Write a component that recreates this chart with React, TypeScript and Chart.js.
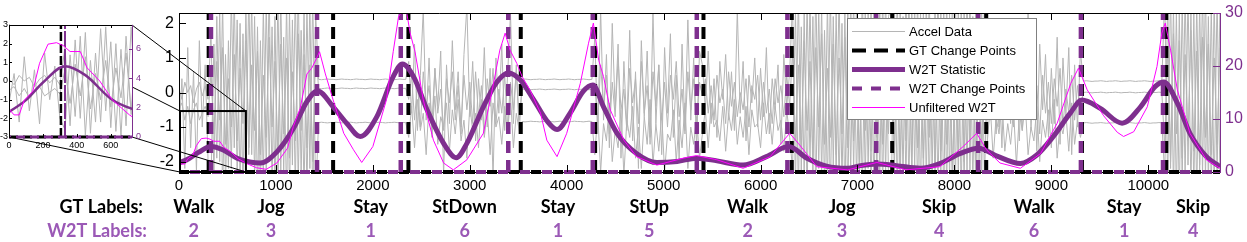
import React, { useEffect, useRef } from 'react';
import { Chart, registerables } from 'chart.js';

Chart.register(...registerables);

const FONT = "'Liberation Sans', Arial, sans-serif";
const LABEL_FONT = "Lato, 'Open Sans', sans-serif";
const PURPLE = '#7E2F8E';
const LABEL_PURPLE = '#9B59B6';
const MAGENTA = '#FF00FF';
const GREY = '#B5B5B5';

const X_MAX = 10740;
const SAMPLE_STEP = 30;
const INSET_X_MAX = 725;
const ZOOM_BOX_X = [0, 680];
const ZOOM_BOX_Y = [0, 11.5];

// ---- tick values ----
const xTicks = [0, 1000, 2000, 3000, 4000, 5000, 6000, 7000, 8000, 9000, 10000];
const accelTicks = [-2, -1, 0, 1, 2];
const w2tTicks = [0, 10, 20, 30];
const insetXTicks = [0, 200, 400, 600];
const insetAccelTicks = [-3, -2, -1, 0, 1, 2, 3];
const insetW2tTicks = [0, 2, 4, 6];

// ---- accelerometer traces (one value every SAMPLE_STEP samples) ----
const accelA = [
  // Walk
  0.1,-0.2,0.3,0.0,0.2,-0.3,0.1,0.3,-0.1,0.2,-0.2,
  // Jog
  1.8,-2.4,2.2,-2.0,2.6,-2.8,1.5,-2.2,2.9,-2.5,
  2.0,-3.0,2.4,-1.8,2.7,-2.6,1.9,-2.9,2.5,-2.3,
  3.0,-2.7,2.2,-3.1,2.8,-2.4,2.6,-3.0,2.1,-2.8,
  3.1,-2.5,2.4,-2.9,2.7,-3.2,2.3,
  // Stay
  0.38,0.37,0.38,0.39,0.38,0.38,0.37,0.38,0.39,0.38,
  0.38,0.37,0.38,0.39,0.38,0.38,0.37,0.38,0.39,0.38,
  0.38,0.37,0.38,0.39,0.38,0.38,0.37,0.38,0.39,0.38,0.38,
  // StDown
  0.9,-0.6,1.4,-1.1,0.5,2.4,-0.8,1.0,-1.3,0.7,
  -0.4,1.2,-2.4,0.8,-0.9,1.5,-0.5,0.6,-1.2,1.1,
  2.5,-0.7,0.9,-1.4,0.4,-0.8,1.3,-1.0,0.7,-2.5,
  1.0,-0.6,1.4,-1.1,0.5,2.3,-0.9,0.8,-1.2,
  // Stay
  0.38,0.39,0.38,0.37,0.38,0.38,0.39,0.38,0.37,0.38,
  0.38,0.39,0.38,0.37,0.38,0.38,0.39,0.38,0.37,0.38,
  0.38,0.39,0.38,0.37,0.38,
  // StUp
  1.6,-1.2,2.4,-0.8,1.1,-1.6,2.0,-0.5,1.4,-1.9,
  0.9,-1.0,1.8,-1.4,0.6,-2.2,1.5,-0.7,1.2,-1.5,
  2.3,-0.9,0.8,-1.8,1.3,-0.6,1.7,-1.3,0.5,-2.0,
  1.4,-1.1,2.1,-0.8,1.0,-1.6,1.2,
  // Walk
  0.8,-0.5,1.2,-0.9,0.4,-1.3,0.9,-0.2,1.1,-0.8,
  0.6,-1.1,2.4,-0.6,0.9,-1.4,0.5,-0.3,1.0,-1.0,
  0.7,-0.7,1.3,-1.2,0.4,-0.5,0.8,-1.5,1.1,-0.4,
  0.6,
  // Jog
  2.6,-2.8,2.9,-2.4,2.3,-3.0,2.8,-2.6,3.1,-2.2,
  2.5,-2.9,2.7,-3.1,2.2,-2.5,3.0,-2.7,2.4,-3.2,
  2.9,-2.3,2.6,-2.8,3.1,-2.6,2.3,-3.0,2.8,-2.4,
  2.5,-2.9,3.0,-2.5,
  // Skip
  -2.7,2.8,-3.0,2.4,-2.5,3.1,-2.8,2.6,-2.2,2.9,
  -3.1,2.5,-2.6,3.0,-2.4,2.7,-2.9,2.3,-3.2,2.8,
  -2.5,3.1,-2.7,2.4,-3.0,2.6,-2.3,2.9,-2.8,2.5,
  -3.1,2.7,-2.6,
  // Walk
  1.0,-0.8,1.5,-1.2,0.6,-1.6,1.2,-0.4,1.8,-1.0,
  0.8,-1.4,1.3,-0.7,2.4,-1.1,0.9,-1.7,1.4,-0.5,
  1.1,-1.3,0.7,-0.9,1.6,-1.5,1.0,-0.6,1.3,-1.8,
  0.8,-1.0,1.2,
  // Stay
  0.33,0.34,0.33,0.32,0.33,0.33,0.34,0.33,0.32,0.33,
  0.33,0.34,0.33,0.32,0.33,0.33,0.34,0.33,0.32,0.33,
  0.33,0.34,0.33,0.32,0.33,0.33,0.34,0.33,
  // Skip
  2.8,-2.6,3.0,-2.9,2.4,-3.1,2.7,-2.5,2.9,-2.8,
  2.3,-3.0,2.6,-2.4,3.1,-2.7,2.5,-2.9,2.8,-2.6,
];

const accelB = [
  -0.5,-0.3,-0.8,-0.4,-0.9,-0.5,-0.3,-0.8,-0.6,-0.4,-0.7,
  0.6,-1.2,0.9,-0.8,1.3,-1.5,0.4,-1.0,1.1,-1.4,
  0.7,-0.9,1.5,-1.6,0.8,-1.1,1.2,-1.8,0.5,-1.3,
  1.6,-1.0,0.9,-1.7,1.4,-1.2,1.0,-1.9,0.6,-1.4,
  1.7,-1.1,1.1,-1.6,0.8,-2.0,1.3,
  0.12,0.11,0.12,0.13,0.12,0.12,0.11,0.12,0.13,0.12,
  0.12,0.11,0.12,0.13,0.12,0.12,0.11,0.12,0.13,0.12,
  0.12,0.11,0.12,0.13,0.12,0.12,0.11,0.12,0.13,0.12,0.12,
  -0.2,0.5,-0.8,0.3,-1.0,0.6,-0.4,0.2,-0.9,0.7,
  -0.6,0.1,-1.1,0.4,-0.3,0.6,-0.8,0.2,-1.0,0.5,
  -0.5,0.3,-0.9,0.6,-0.7,0.2,-1.2,0.4,-0.4,0.7,
  -0.9,0.1,-0.6,0.5,-1.0,0.3,-0.5,0.6,-0.8,
  0.09,0.10,0.09,0.08,0.09,0.09,0.10,0.09,0.08,0.09,
  0.09,0.10,0.09,0.08,0.09,0.09,0.10,0.09,0.08,0.09,
  0.09,0.10,0.09,0.08,0.09,
  0.2,-0.9,0.8,-0.4,0.5,-1.2,0.3,-0.7,1.0,-0.5,
  0.1,-1.1,0.7,-0.3,0.4,-0.9,0.9,-0.6,0.2,-1.3,
  0.6,-0.4,0.8,-0.8,0.3,-1.0,0.5,-0.2,0.9,-0.7,
  0.1,-1.2,0.6,-0.5,0.4,-0.9,0.3,
  -0.1,0.4,-0.6,0.2,-0.8,0.5,-0.3,0.1,-0.9,0.6,
  -0.4,0.3,-0.7,0.0,-0.5,0.4,-1.0,0.2,-0.2,0.5,
  -0.8,0.3,-0.6,0.1,-0.9,0.4,-0.3,0.2,-0.7,0.5,
  -0.4,
  1.2,-1.4,0.8,-1.7,1.5,-1.1,0.9,-1.9,1.3,-1.0,
  1.7,-1.5,0.7,-1.3,1.4,-1.8,1.0,-1.2,1.6,-1.6,
  0.8,-1.4,1.2,-2.0,1.5,-1.1,0.9,-1.7,1.3,-1.3,
  1.8,-1.5,1.0,-1.2,
  1.5,-1.8,1.1,-2.1,1.7,-1.4,1.3,-2.3,1.9,-1.6,
  1.0,-1.9,1.6,-1.3,2.0,-2.2,1.2,-1.7,1.8,-1.5,
  1.4,-2.4,1.1,-1.8,1.7,-2.0,1.5,-1.4,1.9,-2.2,
  1.2,-1.6,1.6,
  -0.2,0.5,-0.7,0.3,-1.0,0.6,-0.4,0.2,-0.9,0.7,
  -0.5,0.1,-1.1,0.4,-0.3,0.6,-0.8,0.2,-1.2,0.5,
  -0.6,0.3,-0.9,0.4,-0.4,0.7,-1.0,0.1,-0.6,0.5,
  -0.8,0.2,-0.5,
  0.00,0.01,0.00,-0.01,0.00,0.00,0.01,0.00,-0.01,0.00,
  0.00,0.01,0.00,-0.01,0.00,0.00,0.01,0.00,-0.01,0.00,
  0.00,0.01,0.00,-0.01,0.00,0.00,0.01,0.00,
  -1.6,1.3,-2.0,1.7,-1.2,1.5,-1.9,1.1,-1.4,1.8,
  -1.7,1.2,-2.1,1.6,-1.3,1.4,-1.8,1.0,-1.5,1.3,
];

const accelC = [
  -1.2,0.4,-2.2,1.3,-1.6,0.6,-2.3,1.5,-1.0,0.8,-2.0,
  -2.6,1.4,-1.9,2.4,-2.9,1.1,-2.2,2.8,-1.6,2.1,
  -2.7,1.7,-2.4,2.9,-1.8,2.2,-3.0,1.5,-2.5,2.6,
  -2.0,1.9,-2.8,2.7,-2.3,1.6,-3.1,2.4,-2.1,2.9,
  -2.6,1.8,-2.9,2.5,-2.2,2.8,-3.0,
  -0.87,-0.86,-0.87,-0.88,-0.87,-0.87,-0.86,-0.87,-0.88,-0.87,
  -0.87,-0.86,-0.87,-0.88,-0.87,-0.87,-0.86,-0.87,-0.88,-0.87,
  -0.87,-0.86,-0.87,-0.88,-0.87,-0.87,-0.86,-0.87,-0.88,-0.87,-0.87,
  -1.3,-0.4,-1.6,-0.2,-1.1,-0.6,-1.8,-0.3,-1.2,-0.1,
  -1.5,-0.7,-1.0,-0.3,-1.7,-0.5,-1.2,-0.2,-1.4,-0.8,
  -1.9,-0.4,-1.1,-0.6,-1.6,-0.2,-1.3,-0.5,-1.8,-0.3,
  -1.0,-0.7,-1.5,-0.4,-1.2,-0.1,-1.6,-0.6,-1.1,
  -0.84,-0.85,-0.84,-0.83,-0.84,-0.84,-0.85,-0.84,-0.83,-0.84,
  -0.84,-0.85,-0.84,-0.83,-0.84,-0.84,-0.85,-0.84,-0.83,-0.84,
  -0.84,-0.85,-0.84,-0.83,-0.84,
  -1.8,-0.6,-2.3,-0.9,-1.4,-0.3,-2.0,-1.1,-1.6,-0.5,
  -2.4,-0.8,-1.3,-0.4,-1.9,-1.0,-2.2,-0.7,-1.5,-0.2,
  -2.1,-0.9,-1.7,-0.6,-2.3,-1.2,-1.4,-0.5,-2.0,-0.8,
  -1.6,-0.3,-2.2,-1.0,-1.5,-0.7,-1.9,
  -1.2,-0.5,-1.6,-0.3,-1.0,-0.8,-1.4,-0.4,-1.7,-0.6,
  -1.1,-0.2,-1.5,-0.7,-1.3,-0.4,-1.8,-0.5,-1.0,-0.9,
  -1.6,-0.3,-1.2,-0.6,-1.5,-0.4,-1.1,-0.8,-1.7,-0.5,
  -1.3,
  -2.2,2.4,-2.9,1.9,-2.5,2.7,-2.0,2.2,-3.0,2.5,
  -2.4,1.8,-2.8,2.9,-2.1,2.3,-2.7,2.0,-3.1,2.6,
  -2.3,2.8,-2.6,1.7,-2.9,2.4,-2.2,2.7,-3.0,2.1,
  -2.5,2.9,-2.4,2.2,
  2.5,-2.4,2.9,-2.8,2.2,-2.6,3.0,-2.3,2.7,-3.0,
  2.4,-2.5,2.8,-2.9,2.1,-2.7,3.1,-2.4,2.6,-2.8,
  2.3,-3.1,2.9,-2.5,2.5,-2.7,3.0,-2.3,2.2,-2.9,
  2.7,-2.6,2.8,
  -1.4,-0.4,-1.9,-0.7,-1.2,-0.2,-1.7,-0.9,-1.5,-0.5,
  -2.1,-0.6,-1.1,-0.3,-1.8,-1.0,-1.4,-0.4,-2.0,-0.8,
  -1.3,-0.5,-1.6,-0.2,-1.9,-0.9,-1.2,-0.6,-1.7,-0.3,
  -1.5,-0.8,-1.3,
  -0.88,-0.87,-0.88,-0.89,-0.88,-0.88,-0.87,-0.88,-0.89,-0.88,
  -0.88,-0.87,-0.88,-0.89,-0.88,-0.88,-0.87,-0.88,-0.89,-0.88,
  -0.88,-0.87,-0.88,-0.89,-0.88,-0.88,-0.87,-0.88,
  -2.4,2.7,-2.2,2.5,-3.0,2.3,-2.6,2.9,-2.1,2.4,
  -2.8,2.6,-2.3,3.0,-2.5,2.2,-2.9,2.7,-2.4,2.5,
];

// ---- W2T statistic (filtered) ----
const statX = [0,100,200,330,450,600,730,840,1010,1180,1320,1430,1590,1730,1870,2040,2210,2305,2420,2560,
  2730,2860,2970,3140,3280,3400,3520,3660,3790,3900,4035,4170,4270,4380,4520,4720,4930,5140,5340,5550,
  5820,6060,6290,6480,6680,6900,7030,7200,7400,7650,7850,8060,8250,8440,8680,8850,9020,9195,9315,9505,
  9730,9920,10070,10160,10300,10430,10600,10740];
const statY = [1.7,2.5,3.7,4.8,4.2,2.6,1.9,1.7,3.8,8.2,13.3,15.3,12.3,9.2,6.7,10.4,18.0,20.4,18.0,11.7,
  5.4,2.7,5.4,12.3,17.0,18.7,17.4,13.6,9.8,8.0,11.1,15.2,16.4,12.3,7.3,3.5,1.8,2.0,2.6,2.1,
  1.3,2.9,4.8,2.6,1.1,0.7,1.2,1.5,1.2,0.7,1.6,3.5,4.5,3.0,1.6,3.2,6.7,11.1,13.6,12.0,
  9.2,12.3,16.1,17.0,13.0,7.3,2.9,1.0];

// ---- Unfiltered W2T ----
const rawX = [0,30,60,90,140,180,230,280,320,360,420,460,535,610,710,800,900,1010,1120,1180,
  1250,1320,1370,1420,1450,1510,1590,1700,1800,1885,2000,2140,2210,2265,2310,2350,2385,2435,2520,2625,
  2730,2830,2970,3140,3245,3310,3365,3415,3485,3540,3620,3730,3795,3900,4000,4140,4225,4275,4330,4380,
  4450,4590,4720,4930,5200,5340,5550,5820,6100,6240,6300,6390,6580,6900,7200,7500,7850,8090,8230,8330,
  8470,8680,8890,9060,9200,9280,9370,9540,9680,9745,9850,9990,10090,10140,10175,10230,10300,10430,10600,10740];
const rawY = [1.9,1.5,1.5,2.5,3.1,5.0,6.3,6.4,6.2,5.8,5.8,4.7,3.8,2.5,1.5,0.8,0.5,1.7,4.5,8.6,
  12.0,18.5,19.6,21.5,22.7,18.5,13.6,7.3,4.2,1.8,4.8,13.6,22.7,29.3,30.5,30.0,26.2,22.7,13.6,6.0,
  1.7,0.4,2.3,7.3,16.7,23.0,26.2,23.0,20.5,18.0,15.5,11.1,6.0,2.9,7.3,16.7,24.3,28.1,21.1,18.0,
  11.7,6.0,2.9,1.3,2.6,3.1,2.3,0.7,2.9,6.0,7.3,5.4,1.0,0.4,1.8,0.4,1.0,4.8,7.3,4.2,
  1.7,0.7,3.5,9.2,16.7,19.6,15.5,10.6,7.5,6.7,7.6,12.3,19.9,26.2,28.1,23.0,15.5,7.3,2.3,0.7];

// ---- change points ----
const gtChangePoints = [306, 1590, 2367, 3526, 4293, 5411, 6322, 7358, 8328, 9316, 10186];
const w2tChangePoints = [330, 1424, 2288, 3397, 4269, 5342, 6277, 7193, 8245, 9305, 10152];

// ---- segment labels ----
const gtLabels = ['Walk', 'Jog', 'Stay', 'StDown', 'Stay', 'StUp', 'Walk', 'Jog', 'Skip', 'Walk', 'Stay', 'Skip'];
const w2tLabels = ['2', '3', '1', '6', '1', '5', '2', '3', '4', '6', '1', '4'];

const legendItems = [
  { label: 'Accel Data', color: GREY, width: 1, dash: [] as number[] },
  { label: 'GT Change Points', color: '#000', width: 4, dash: [14, 8] },
  { label: 'W2T Statistic', color: PURPLE, width: 5, dash: [] as number[] },
  { label: 'W2T Change Points', color: PURPLE, width: 4, dash: [10, 9] },
  { label: 'Unfiltered W2T', color: MAGENTA, width: 1, dash: [] as number[] },
];

type Pt = { x: number; y: number | null };
const accelPoints = (arr: number[]): Pt[] => arr.map((v, i) => ({ x: i * SAMPLE_STEP, y: v }));
const pairPoints = (xs: number[], ys: number[]): Pt[] => xs.map((x, i) => ({ x, y: ys[i] }));
const verticals = (cps: number[], top: number): Pt[] =>
  cps.flatMap((c) => [{ x: c, y: 0 }, { x: c, y: top }, { x: c, y: null }]);
const baseline = (xmax: number): Pt[] => [{ x: 0, y: 0 }, { x: xmax, y: 0 }];

function buildDatasets(s: any) {
  const baseClip = { left: 0, top: 0, right: 0, bottom: 3 };
  return [
    { label: 'Unfiltered W2T', data: pairPoints(rawX, rawY), yAxisID: 'y1', borderColor: MAGENTA, borderWidth: s.rawW, borderJoinStyle: 'round', order: 1 },
    { label: 'W2T Change Points', data: verticals(w2tChangePoints, s.top), yAxisID: 'y1', borderColor: PURPLE, borderWidth: s.cpW, borderDash: s.cpDash, order: 2 },
    { label: 'W2T base', data: baseline(s.xmax), yAxisID: 'y1', borderColor: PURPLE, borderWidth: s.baseW, borderDash: s.baseDash, borderDashOffset: s.baseOffset, clip: baseClip, order: 2 },
    { label: 'W2T Statistic', data: pairPoints(statX, statY), yAxisID: 'y1', borderColor: PURPLE, borderWidth: s.statW, cubicInterpolationMode: 'monotone', order: 3 },
    { label: 'GT Change Points', data: verticals(gtChangePoints, s.top), yAxisID: 'y1', borderColor: '#000', borderWidth: s.gtW, borderDash: s.gtDash, order: 4 },
    { label: 'GT base', data: baseline(s.xmax), yAxisID: 'y1', borderColor: '#000', borderWidth: s.baseW, borderDash: s.baseDash, clip: baseClip, order: 4 },
    { label: 'Accel 1', data: accelPoints(accelA), yAxisID: 'y', borderColor: GREY, borderWidth: s.accelW, borderJoinStyle: 'round', order: 5 },
    { label: 'Accel 2', data: accelPoints(accelB), yAxisID: 'y', borderColor: GREY, borderWidth: s.accelW, borderJoinStyle: 'round', order: 5 },
    { label: 'Accel 3', data: accelPoints(accelC), yAxisID: 'y', borderColor: GREY, borderWidth: s.accelW, borderJoinStyle: 'round', order: 5 },
  ];
}

function line(ctx: CanvasRenderingContext2D, x1: number, y1: number, x2: number, y2: number) {
  ctx.beginPath();
  ctx.moveTo(x1, y1);
  ctx.lineTo(x2, y2);
  ctx.stroke();
}

function drawBottomLine(chart: any) {
  const { ctx, chartArea: a } = chart;
  ctx.save();
  ctx.strokeStyle = '#000';
  ctx.lineWidth = 1;
  line(ctx, a.left, a.bottom + 0.5, a.right, a.bottom + 0.5);
  ctx.restore();
}

function drawFrameAndTicks(chart: any, tl: number) {
  const { ctx, chartArea: a, scales } = chart;
  ctx.save();
  ctx.lineWidth = 1;
  ctx.strokeStyle = '#000';
  scales.x.ticks.forEach((t: any) => {
    const px = Math.round(scales.x.getPixelForValue(t.value)) + 0.5;
    line(ctx, px, a.bottom, px, a.bottom - tl);
    line(ctx, px, a.top, px, a.top + tl);
  });
  scales.y.ticks.forEach((t: any) => {
    const py = Math.round(scales.y.getPixelForValue(t.value)) + 0.5;
    line(ctx, a.left, py, a.left + tl, py);
  });
  line(ctx, a.left, a.top + 0.5, a.right, a.top + 0.5);
  line(ctx, a.left + 0.5, a.top, a.left + 0.5, a.bottom + 1);
  ctx.strokeStyle = PURPLE;
  scales.y1.ticks.forEach((t: any) => {
    const py = Math.round(scales.y1.getPixelForValue(t.value)) + 0.5;
    line(ctx, a.right - tl, py, a.right, py);
  });
  line(ctx, a.right + 0.5, a.top, a.right + 0.5, a.bottom + 1);
  ctx.restore();
}

function zoomBox(chart: any) {
  const { x, y1 } = chart.scales;
  return {
    left: x.getPixelForValue(ZOOM_BOX_X[0]),
    right: x.getPixelForValue(ZOOM_BOX_X[1]),
    top: y1.getPixelForValue(ZOOM_BOX_Y[1]),
    bottom: y1.getPixelForValue(ZOOM_BOX_Y[0]),
  };
}

function drawLegend(chart: any) {
  const { ctx, chartArea: a } = chart;
  const left = a.right - 373;
  const top = a.top + 5;
  const w = 189;
  const h = 101;
  ctx.save();
  ctx.fillStyle = '#fff';
  ctx.fillRect(left, top, w, h);
  ctx.strokeStyle = '#808080';
  ctx.lineWidth = 1;
  ctx.strokeRect(left + 0.5, top + 0.5, w, h);
  ctx.font = `13px ${FONT}`;
  ctx.textBaseline = 'middle';
  ctx.textAlign = 'left';
  legendItems.forEach((it, k) => {
    const yy = top + 13.5 + k * 19;
    ctx.setLineDash(it.dash);
    ctx.lineWidth = it.width;
    ctx.strokeStyle = it.color;
    line(ctx, left + 5, yy, left + 58, yy);
    ctx.setLineDash([]);
    ctx.fillStyle = '#000';
    ctx.fillText(it.label, left + 62, yy + 0.5);
  });
  ctx.restore();
}

function drawLabelRows(chart: any) {
  const { ctx, scales } = chart;
  const bounds = [0, ...gtChangePoints, X_MAX];
  ctx.save();
  ctx.font = `bold 18px ${LABEL_FONT}`;
  ctx.textBaseline = 'alphabetic';
  ctx.textAlign = 'right';
  ctx.fillStyle = '#000';
  ctx.fillText('GT Labels:', 143, 212.5);
  ctx.fillStyle = LABEL_PURPLE;
  ctx.fillText('W2T Labels:', 147, 236.5);
  ctx.textAlign = 'center';
  gtLabels.forEach((lab, k) => {
    const cx = scales.x.getPixelForValue((bounds[k] + bounds[k + 1]) / 2);
    ctx.fillStyle = '#000';
    ctx.fillText(lab, cx, 212.5);
    ctx.fillStyle = LABEL_PURPLE;
    ctx.fillText(w2tLabels[k], cx, 236.5);
  });
  ctx.restore();
}

function axisCommon(size: number, color: string, padding: number, values: number[]) {
  return {
    grid: { display: false, drawTicks: false },
    border: { display: false },
    afterBuildTicks: (s: any) => { s.ticks = values.map((v) => ({ value: v })); },
    ticks: {
      autoSkip: false,
      maxRotation: 0,
      color,
      padding,
      font: { family: FONT, size },
      callback: (v: any) => String(v),
    },
  };
}

export default function App() {
  const mainRef = useRef<HTMLCanvasElement>(null);
  const insetRef = useRef<HTMLCanvasElement>(null);

  useEffect(() => {
    document.body.style.margin = '0';

    const inset = new Chart(insetRef.current as HTMLCanvasElement, {
      type: 'line',
      data: {
        datasets: buildDatasets({
          rawW: 1, cpW: 2, cpDash: [16, 2], baseW: 3, baseDash: [9, 5], baseOffset: 7,
          statW: 2.5, gtW: 2.5, gtDash: [9, 3], accelW: 1, top: 7.6, xmax: INSET_X_MAX,
        }) as any,
      },
      options: {
        animation: false,
        responsive: false,
        devicePixelRatio: 1,
        events: [],
        layout: { padding: { top: 25, left: 0, right: 0, bottom: 0 } },
        plugins: { legend: { display: false }, tooltip: { enabled: false } },
        elements: { point: { radius: 0 }, line: { tension: 0 } },
        scales: {
          x: {
            type: 'linear', min: 0, max: INSET_X_MAX, ...axisCommon(9, '#000', 3, insetXTicks),
            afterFit: (s: any) => { s.height = 23; s.paddingLeft = 0; s.paddingRight = 0; },
          },
          y: {
            type: 'linear', position: 'left', min: -3, max: 3, ...axisCommon(9, '#000', 1, insetAccelTicks),
            afterFit: (s: any) => { s.width = 9; s.paddingTop = 0; s.paddingBottom = 0; },
          },
          y1: {
            type: 'linear', position: 'right', min: 0, max: 7.6, ...axisCommon(9, PURPLE, 4, insetW2tTicks),
            afterFit: (s: any) => { s.width = 28; s.paddingTop = 0; s.paddingBottom = 0; },
          },
        } as any,
      },
      plugins: [
        {
          id: 'insetDecor',
          beforeDraw(chart: any) {
            const { ctx, chartArea: a } = chart;
            ctx.save();
            ctx.fillStyle = '#fff';
            ctx.fillRect(a.left, a.top, a.right - a.left + 1, a.bottom - a.top + 1);
            ctx.restore();
          },
          beforeDatasetsDraw(chart: any) { drawBottomLine(chart); },
          afterDatasetsDraw(chart: any) { drawFrameAndTicks(chart, 3); },
        },
      ],
    } as any);

    const main = new Chart(mainRef.current as HTMLCanvasElement, {
      type: 'line',
      data: {
        datasets: buildDatasets({
          rawW: 1, cpW: 4.5, cpDash: [12, 7], baseW: 4, baseDash: [10, 12], baseOffset: 11,
          statW: 5, gtW: 4, gtDash: [12, 7], accelW: 1, top: 30, xmax: X_MAX,
        }) as any,
      },
      options: {
        animation: false,
        responsive: false,
        devicePixelRatio: 1,
        events: [],
        layout: { padding: { top: 13, left: 0, right: 0, bottom: 0 } },
        plugins: { legend: { display: false }, tooltip: { enabled: false } },
        elements: { point: { radius: 0 }, line: { tension: 0 } },
        scales: {
          x: {
            type: 'linear', min: 0, max: X_MAX, ...axisCommon(15, '#000', 5, xTicks),
            afterFit: (s: any) => { s.height = 70; s.paddingLeft = 0; s.paddingRight = 0; },
          },
          y: {
            type: 'linear', position: 'left', min: -2.3, max: 2.3, ...axisCommon(16, '#000', 5, accelTicks),
            afterFit: (s: any) => { s.width = 179; s.paddingTop = 0; s.paddingBottom = 0; },
          },
          y1: {
            type: 'linear', position: 'right', min: 0, max: 30, ...axisCommon(16, PURPLE, 5, w2tTicks),
            afterFit: (s: any) => { s.width = 27; s.paddingTop = 0; s.paddingBottom = 0; },
          },
        } as any,
      },
      plugins: [
        {
          id: 'mainDecor',
          beforeDatasetsDraw(chart: any) { drawBottomLine(chart); },
          afterDatasetsDraw(chart: any) {
            drawFrameAndTicks(chart, 7);
            const b = zoomBox(chart);
            const { ctx } = chart;
            ctx.save();
            ctx.strokeStyle = '#000';
            ctx.lineWidth = 2;
            ctx.strokeRect(b.left + 1, b.top, b.right - b.left, b.bottom - b.top);
            ctx.restore();
            drawLegend(chart);
          },
          afterDraw(chart: any) {
            const ia = inset.chartArea;
            const b = zoomBox(chart);
            const { ctx } = chart;
            ctx.save();
            ctx.strokeStyle = '#000';
            ctx.lineWidth = 1;
            line(ctx, ia.left, ia.top, b.left + 1, b.top);
            line(ctx, ia.right, ia.top, b.right + 1, b.top);
            line(ctx, ia.left, ia.bottom, b.left + 1, b.bottom);
            line(ctx, ia.right, ia.bottom, b.right + 1, b.bottom);
            ctx.restore();
            drawLabelRows(chart);
          },
        },
      ],
    } as any);

    return () => {
      main.destroy();
      inset.destroy();
    };
  }, []);

  return (
    <div style={{ position: 'absolute', left: 0, top: 0, width: 1247, height: 242, background: '#fff' }}>
      <canvas ref={mainRef} width={1247} height={242} style={{ position: 'absolute', left: 0, top: 0 }} />
      <canvas ref={insetRef} width={160} height={160} style={{ position: 'absolute', left: 0, top: 0 }} />
    </div>
  );
}
